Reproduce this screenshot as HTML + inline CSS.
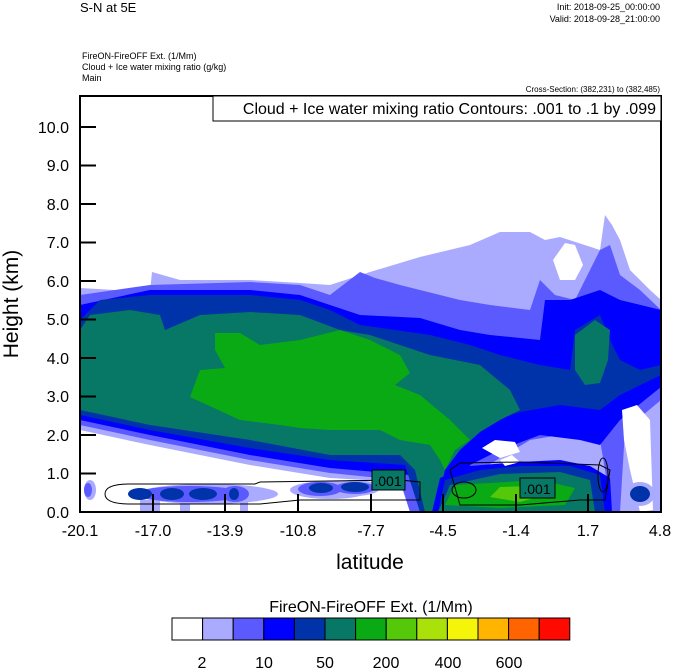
<!DOCTYPE html>
<html><head><meta charset="utf-8"><style>
html,body{margin:0;padding:0;background:#fff;}
svg{display:block;font-family:"Liberation Sans",sans-serif;}
</style></head><body>
<svg width="674" height="668" viewBox="0 0 674 668" xmlns="http://www.w3.org/2000/svg">
<text x="80" y="12" font-size="13">S-N at 5E</text>
<text x="660" y="10" font-size="9" text-anchor="end">Init: 2018-09-25_00:00:00</text>
<text x="660" y="22" font-size="9" text-anchor="end">Valid: 2018-09-28_21:00:00</text>
<text x="82" y="59" font-size="9">FireON-FireOFF Ext.   (1/Mm)</text>
<text x="82" y="70" font-size="9">Cloud + Ice water mixing ratio   (g/kg)</text>
<text x="82" y="81" font-size="9">Main</text>
<text x="660" y="92" font-size="8" text-anchor="end">Cross-Section: (382,231) to (382,485)</text>
<defs><clipPath id="c"><rect x="80" y="96" width="581" height="416"/></clipPath></defs>
<g clip-path="url(#c)">
<polygon fill="#aaaaff" points="80,288 150,292 152,272 180,280 250,280 300,283 330,285 370,272 420,257 470,245 500,232 530,232 545,240 560,237 600,250 605,215 612,225 620,240 630,270 650,290 661,300 661,512 410,512 400,482 330,478 250,465 150,445 80,430"/>
<polygon fill="#5a5aff" points="80,295 150,285 250,282 300,285 330,295 360,272 375,278 400,285 420,290 460,300 490,305 530,310 540,280 555,295 575,300 600,250 610,245 620,275 640,290 661,310 661,400 625,430 620,512 612,512 600,440 560,435 530,440 480,470 470,512 410,512 400,480 330,473 250,460 150,440 80,425"/>
<polygon fill="#0000ff" points="80,305 150,290 250,290 300,295 330,305 360,315 420,318 460,330 490,335 540,340 545,300 570,300 600,290 620,300 661,310 661,387 620,420 600,445 580,440 540,435 500,450 470,465 460,512 420,512 410,475 330,468 250,455 150,435 80,420"/>
<polygon fill="#0033aa" points="80,320 100,300 150,295 250,295 300,300 330,310 360,325 430,335 470,345 500,355 540,365 570,370 575,330 600,315 610,340 620,360 640,370 661,365 661,375 620,395 600,410 560,405 520,412 480,425 450,450 430,512 420,512 405,465 330,460 250,448 150,430 80,415"/>
<polygon fill="#077766" points="80,330 90,315 130,310 160,315 165,330 200,315 250,312 300,315 340,330 370,335 400,345 430,355 480,365 510,390 520,410 500,420 480,432 460,450 445,470 435,512 425,512 415,470 400,455 330,455 250,440 150,425 80,410"/>
<polygon fill="#077766" points="575,335 595,320 610,330 608,360 600,383 585,385 575,370"/>
<polygon fill="#0aaa14" points="215,333 240,333 260,345 300,340 340,330 370,340 400,355 410,373 395,385 420,395 450,420 470,440 455,450 445,470 440,460 430,445 400,440 380,430 330,430 300,428 280,425 240,420 190,397 200,370 225,368 215,350"/>
<polygon fill="#0000ff" points="432,512 440,478 470,466 520,462 560,460 590,466 610,478 612,512"/>
<polygon fill="#0033aa" points="438,512 445,480 480,470 520,466 570,466 600,475 605,512"/>
<polygon fill="#077766" points="438,512 450,485 500,474 560,472 590,480 595,512"/>
<polygon fill="#0aaa14" points="445,505 455,485 540,480 575,488 565,505 500,508"/>
<polygon fill="#55c80a" points="490,497 500,487 530,486 545,495 520,502"/>
<polygon fill="#fff" points="553,260 565,243 575,245 583,265 575,280 560,280"/>
<polygon fill="#fff" points="622,410 637,405 650,420 653,510 640,512 630,470 624,440"/>
<polygon fill="#fff" points="482,448 495,440 515,442 520,452 500,458"/>
<polygon fill="#fff" points="500,460 512,455 520,462 505,466"/>
<g fill="#aaaaff">
<ellipse cx="208" cy="494" rx="70" ry="10"/><ellipse cx="330" cy="490" rx="40" ry="9"/><ellipse cx="355" cy="488" rx="25" ry="8"/><ellipse cx="90" cy="490" rx="6" ry="10"/><ellipse cx="640" cy="494" rx="15" ry="12"/>
<rect x="140" y="500" width="20" height="12"/><rect x="180" y="500" width="10" height="12"/><rect x="240" y="500" width="8" height="12"/>
</g>
<g fill="#5a5aff">
<ellipse cx="190" cy="494" rx="55" ry="8"/><ellipse cx="235" cy="494" rx="14" ry="8"/><ellipse cx="320" cy="489" rx="22" ry="7"/><ellipse cx="355" cy="488" rx="20" ry="6"/><ellipse cx="88" cy="490" rx="4" ry="7"/>
</g>
<g fill="#0033aa">
<ellipse cx="140" cy="494" rx="12" ry="6"/><ellipse cx="172" cy="494" rx="12" ry="6"/><ellipse cx="203" cy="494" rx="14" ry="6"/><ellipse cx="234" cy="494" rx="5" ry="6"/><ellipse cx="321" cy="488" rx="12" ry="5"/><ellipse cx="355" cy="487" rx="14" ry="5"/><ellipse cx="640" cy="494" rx="10" ry="8"/>
</g>
</g>
<g fill="none" stroke="#000" stroke-width="1">
<path d="M105,494 Q105,484 130,484 L255,484 L260,482 L400,480 L420,482 L420,500 L300,500 L260,504 L130,504 Q105,504 105,494Z"/>
<path d="M450,470 L460,463 L520,462 L600,465 L610,470 L605,500 L580,500 L520,505 L460,505 Z"/>
<ellipse cx="464" cy="490" rx="12" ry="8"/>
<ellipse cx="603" cy="475" rx="5" ry="17"/>
</g>
<rect x="372" y="470" width="33" height="20" fill="#077766" stroke="#000"/>
<text x="388" y="486" font-size="14" text-anchor="middle">.001</text>
<rect x="520" y="478" width="35" height="20" fill="#077766" stroke="#000"/>
<text x="537" y="494" font-size="14" text-anchor="middle">.001</text>
<rect x="80" y="96" width="581" height="416" fill="none" stroke="#000" stroke-width="2"/>
<rect x="213" y="96" width="448" height="25" fill="#fff" stroke="#000" stroke-width="1"/>
<text x="656" y="114" font-size="16" text-anchor="end">Cloud + Ice water mixing ratio Contours: .001 to .1 by .099</text>
<g stroke="#000" stroke-width="2">
<line x1="80" y1="127" x2="96" y2="127"/><line x1="80" y1="165.5" x2="96" y2="165.5"/><line x1="80" y1="204" x2="96" y2="204"/><line x1="80" y1="242.5" x2="96" y2="242.5"/><line x1="80" y1="281" x2="96" y2="281"/><line x1="80" y1="319.5" x2="96" y2="319.5"/><line x1="80" y1="358" x2="96" y2="358"/><line x1="80" y1="396.5" x2="96" y2="396.5"/><line x1="80" y1="435" x2="96" y2="435"/><line x1="80" y1="473.5" x2="96" y2="473.5"/>
<line x1="153" y1="512" x2="153" y2="494"/><line x1="225" y1="512" x2="225" y2="494"/><line x1="298" y1="512" x2="298" y2="494"/><line x1="371" y1="512" x2="371" y2="494"/><line x1="443" y1="512" x2="443" y2="494"/><line x1="516" y1="512" x2="516" y2="494"/><line x1="588" y1="512" x2="588" y2="494"/>
</g>
<g font-size="16" text-anchor="end">
<text x="69" y="133">10.0</text><text x="69" y="171">9.0</text><text x="69" y="210">8.0</text><text x="69" y="248">7.0</text><text x="69" y="287">6.0</text><text x="69" y="325">5.0</text><text x="69" y="364">4.0</text><text x="69" y="402">3.0</text><text x="69" y="441">2.0</text><text x="69" y="479">1.0</text><text x="69" y="518">0.0</text>
</g>
<g font-size="16" text-anchor="middle">
<text x="80" y="536">-20.1</text><text x="153" y="536">-17.0</text><text x="225" y="536">-13.9</text><text x="298" y="536">-10.8</text><text x="371" y="536">-7.7</text><text x="443" y="536">-4.5</text><text x="516" y="536">-1.4</text><text x="588" y="536">1.7</text><text x="660" y="536">4.8</text>
</g>
<text x="370" y="569" font-size="21" text-anchor="middle">latitude</text>
<text transform="translate(18,304) rotate(-90)" font-size="21" text-anchor="middle">Height (km)</text>
<text x="371" y="612" font-size="16" text-anchor="middle">FireON-FireOFF Ext.  (1/Mm)</text>
<g stroke="#000" stroke-width="1">
<rect x="172" y="618" width="30.6" height="22" fill="#ffffff"/>
<rect x="202.6" y="618" width="30.6" height="22" fill="#aaaaff"/>
<rect x="233.2" y="618" width="30.6" height="22" fill="#5a5aff"/>
<rect x="263.8" y="618" width="30.6" height="22" fill="#0000ff"/>
<rect x="294.4" y="618" width="30.6" height="22" fill="#0033aa"/>
<rect x="325" y="618" width="30.6" height="22" fill="#077766"/>
<rect x="355.6" y="618" width="30.6" height="22" fill="#0aaa14"/>
<rect x="386.2" y="618" width="30.6" height="22" fill="#55c80a"/>
<rect x="416.8" y="618" width="30.6" height="22" fill="#aae10a"/>
<rect x="447.4" y="618" width="30.6" height="22" fill="#f5f50a"/>
<rect x="478" y="618" width="30.6" height="22" fill="#ffb400"/>
<rect x="508.6" y="618" width="30.6" height="22" fill="#ff6400"/>
<rect x="539.2" y="618" width="30.6" height="22" fill="#ff0a00"/>
</g>
<g font-size="16" text-anchor="middle">
<text x="202" y="668">2</text><text x="264" y="668">10</text><text x="325" y="668">50</text><text x="386" y="668">200</text><text x="448" y="668">400</text><text x="509" y="668">600</text>
</g>
</svg>
</body></html>
